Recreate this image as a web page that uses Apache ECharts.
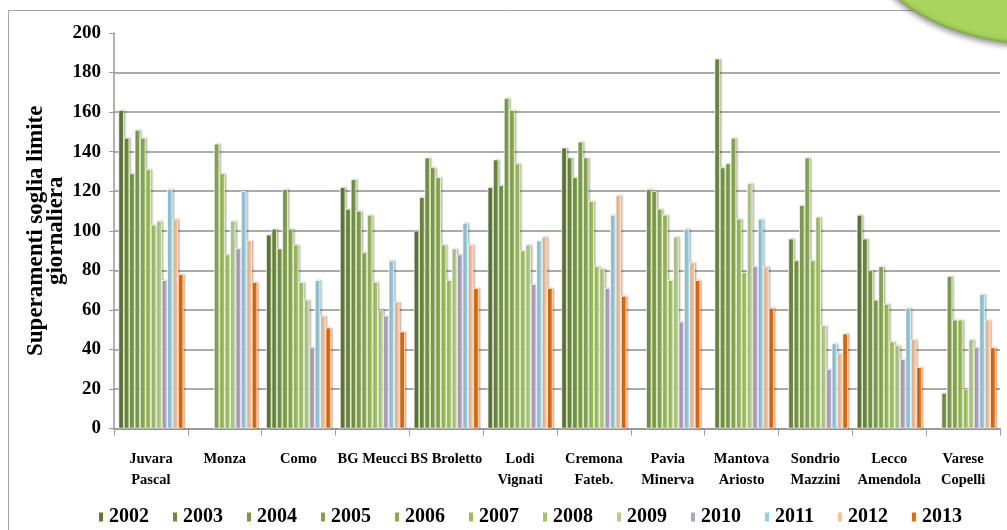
<!DOCTYPE html>
<html>
<head>
<meta charset="utf-8">
<script src="https://cdn.jsdelivr.net/npm/echarts@6/dist/echarts.min.js"></script>
<style>
html,body{margin:0;padding:0;background:#fff;}
#chart{width:1007px;height:530px;}
</style>
</head>
<body>
<div id="chart"></div>
<script>
var categories = ['Juvara\nPascal', 'Monza', 'Como', 'BG Meucci', 'BS Broletto', 'Lodi\nVignati',
  'Cremona\nFateb.', 'Pavia\nMinerva', 'Mantova\nAriosto', 'Sondrio\nMazzini', 'Lecco\nAmendola', 'Varese\nCopelli'];
var years = ['2002','2003','2004','2005','2006','2007','2008','2009','2010','2011','2012','2013'];
var yTicks = [0, 20, 40, 60, 80, 100, 120, 140, 160, 180, 200];

var y2002 = [161, null, 98, 122, 100, 122, 142, null, null, null, 108, null];
var y2003 = [147, null, 101, 111, 117, 136, 137, null, 187, 96, 96, null];
var y2004 = [129, null, 91, 126, 137, 123, 127, 121, 132, 85, 80, 18];
var y2005 = [151, null, 121, 110, 132, 167, 145, 120, 134, 113, 65, 77];
var y2006 = [147, 144, 101, 89, 127, 161, 137, 111, 147, 137, 82, 55];
var y2007 = [131, 129, 93, 108, 93, 134, 115, 108, 106, 85, 63, 55];
var y2008 = [103, 88, 74, 74, 75, 90, 82, 75, 79, 107, 44, 20];
var y2009 = [105, 105, 65, 60, 91, 93, 81, 97, 124, 52, 42, 45];
var y2010 = [75, 91, 41, 57, 88, 73, 71, 54, 82, 30, 35, 41];
var y2011 = [121, 120, 75, 85, 104, 95, 108, 101, 106, 43, 61, 68];
var y2012 = [106, 95, 57, 64, 93, 97, 118, 84, 82, 38, 45, 55];
var y2013 = [78, 74, 51, 49, 71, 71, 67, 75, 61, 48, 31, 41];

var values = [y2002, y2003, y2004, y2005, y2006, y2007, y2008, y2009, y2010, y2011, y2012, y2013];
var colors = ['#5f7b32', '#6e8c3a', '#789843', '#82a24a', '#8bab50', '#9bbe5a',
  '#a3c565', '#b5cd8d', '#b3a2c7', '#93cddd', '#fbbf90', '#e46c0a'];

var serif = '"Liberation Serif", "DejaVu Serif", serif';

var series = years.map(function (y, i) {
  return {
    name: y,
    type: 'bar',
    data: values[i],
    barGap: '0%',
    barCategoryGap: '12%',
    itemStyle: {
      color: colors[i],
      borderColor: '#ffffff',
      borderWidth: 0.7,
      shadowColor: 'rgba(0,0,0,0.28)',
      shadowBlur: 2,
      shadowOffsetX: 1.5,
      shadowOffsetY: 0
    },
    emphasis: { disabled: true }
  };
});

var chart = echarts.init(document.getElementById('chart'), null, { renderer: 'canvas' });
chart.setOption({
  animation: false,
  color: colors,
  graphic: [
    {
      type: 'rect', z: -10,
      shape: { x: 8.5, y: 10.5, width: 1100, height: 600 },
      style: { fill: 'none', stroke: '#a6a6a6', lineWidth: 1 }
    },
    {
      type: 'ellipse', z: 100,
      shape: { cx: 1042, cy: -62, rx: 175, ry: 106 },
      style: {
        fill: '#a9d55e', stroke: '#86b244', lineWidth: 2,
        shadowColor: 'rgba(0,0,0,0.45)', shadowBlur: 6, shadowOffsetY: 2
      }
    }
  ],
  grid: { left: 114, right: 7, top: 33, bottom: 101.5, containLabel: false },
  legend: {
    data: years,
    left: 92,
    top: 502,
    icon: 'rect',
    itemWidth: 6,
    itemHeight: 11,
    itemGap: 22,
    textStyle: { fontFamily: serif, fontWeight: 'bold', fontSize: 20, color: '#000' }
  },
  xAxis: {
    type: 'category',
    data: categories,
    axisLine: { lineStyle: { color: '#9a9a9a', width: 2 } },
    axisTick: { show: true, length: 7, lineStyle: { color: '#9a9a9a', width: 1 } },
    axisLabel: {
      interval: 0, margin: 20,
      fontFamily: serif, fontWeight: 'bold', fontSize: 14.5, lineHeight: 21, color: '#000'
    }
  },
  yAxis: {
    type: 'value',
    min: yTicks[0],
    max: yTicks[yTicks.length - 1],
    interval: yTicks[1] - yTicks[0],
    name: 'Superamenti soglia limite\ngiornaliera',
    nameLocation: 'middle',
    nameGap: 48,
    nameMoveOverlap: false,
    nameTextStyle: { fontFamily: serif, fontWeight: 'bold', fontSize: 23, lineHeight: 20, color: '#000' },
    axisLine: { show: true, lineStyle: { color: '#9a9a9a', width: 1.5 } },
    axisTick: { show: true, length: 5, lineStyle: { color: '#9a9a9a' } },
    axisLabel: { margin: 13, fontFamily: serif, fontWeight: 'bold', fontSize: 19, color: '#000' },
    splitLine: { show: true, showMaxLine: false, lineStyle: { color: '#8f8f8f', width: 1.5 } }
  },
  series: series
});
</script>
</body>
</html>
